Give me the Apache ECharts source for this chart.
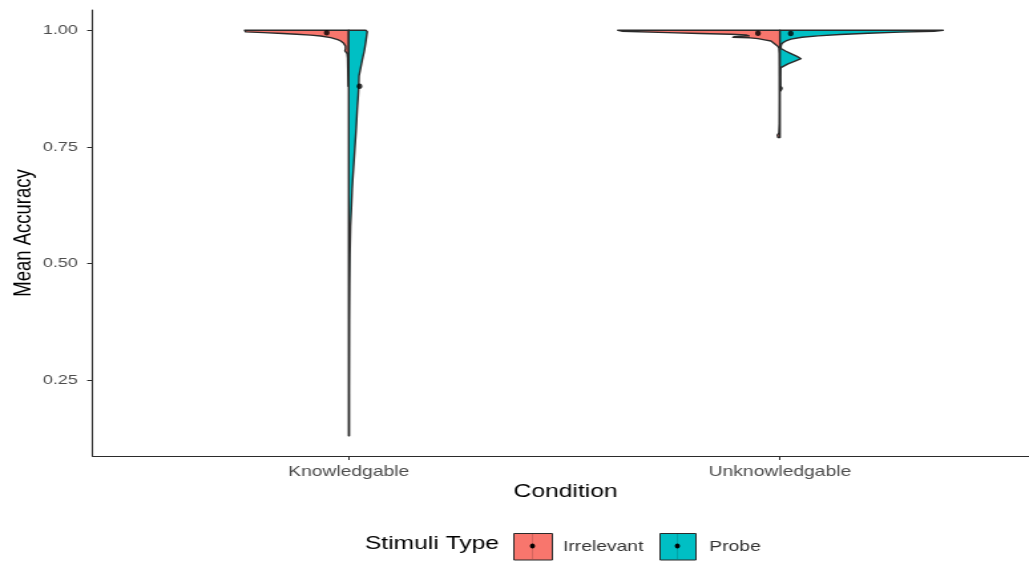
<!DOCTYPE html>
<html>
<head>
<meta charset="utf-8">
<script src="https://cdn.jsdelivr.net/npm/echarts@6/dist/echarts.min.js"></script>
<style>
html,body{margin:0;padding:0;width:1029px;height:563px;overflow:hidden;background:#fff;}
#chart{width:774px;height:563px;transform:scaleX(1.32946);transform-origin:0 0;}
</style>
</head>
<body>
<div id="chart"></div>
<script>
// ---- data ----
const categories = ['Knowledgable', 'Unknowledgable'];
const stimuli = ['Irrelevant', 'Probe'];
const yTicks = [0.25, 0.5, 0.75, 1.0];

// density profiles (accuracy value, violin half-width in category units)
const kIrrAcc = [1.000, 0.9965, 0.995, 0.993, 0.9914, 0.9895, 0.9878, 0.9843, 0.980, 0.977, 0.972, 0.966, 0.960, 0.956, 0.950, 0.940, 0.920, 0.900, 0.880];
const kIrrDen = [0.2413, 0.2390, 0.1972, 0.1531, 0.1206, 0.0882, 0.0650, 0.0418, 0.0255, 0.0186, 0.0116, 0.0074, 0.0074, 0.0086, 0.0035, 0.0023, 0.0019, 0.0014, 0.0009];

const kProbeAcc = [1.000, 0.997, 0.990, 0.974, 0.955, 0.938, 0.920, 0.902, 0.880, 0.860, 0.830, 0.790, 0.752, 0.717, 0.680, 0.660, 0.620, 0.580, 0.520, 0.450, 0.380, 0.300, 0.220, 0.130];
const kProbeDen = [0.0394, 0.0429, 0.0418, 0.0394, 0.0360, 0.0318, 0.0278, 0.0239, 0.0232, 0.0220, 0.0197, 0.0174, 0.0146, 0.0121, 0.0093, 0.0081, 0.0063, 0.0042, 0.0028, 0.0021, 0.0016, 0.0014, 0.0012, 0.0012];

const uIrrAcc = [1.000, 0.998, 0.995, 0.993, 0.9914, 0.990, 0.988, 0.9862, 0.9850, 0.9838, 0.982, 0.979, 0.977, 0.972, 0.968, 0.966, 0.962, 0.950, 0.900, 0.850, 0.800, 0.780, 0.775, 0.770];
const uIrrDen = [0.3759, 0.3666, 0.2599, 0.1856, 0.1137, 0.0789, 0.0719, 0.1067, 0.1090, 0.0696, 0.0510, 0.0325, 0.0209, 0.0139, 0.0081, 0.0053, 0.0023, 0.0014, 0.0012, 0.0012, 0.0014, 0.0023, 0.0058, 0.0046];

const uProbeAcc = [1.000, 0.998, 0.996, 0.9936, 0.991, 0.988, 0.985, 0.981, 0.977, 0.9736, 0.970, 0.966, 0.961, 0.955, 0.950, 0.944, 0.939, 0.934, 0.928, 0.920, 0.915, 0.900, 0.880, 0.876, 0.873, 0.870];
const uProbeDen = [0.3782, 0.3573, 0.2784, 0.2042, 0.1392, 0.0882, 0.0510, 0.0255, 0.0139, 0.0070, 0.0035, 0.0023, 0.0023, 0.0139, 0.0255, 0.0394, 0.0487, 0.0348, 0.0186, 0.0023, 0.0014, 0.0012, 0.0014, 0.0046, 0.0035, 0.0014];

// group means
const meanIrr = [0.9946, 0.9936];
const meanProbe = [0.880, 0.993];

// ---- styles ----
const colIrr = '#F8766D';
const colProbe = '#00BFC4';
const outline = '#2b2b2b';
const dodgeIrr = -0.051, dodgeProbe = 0.025;
const font = "'Liberation Sans', Arial, sans-serif";

const irrProfiles = [{acc: kIrrAcc, den: kIrrDen}, {acc: uIrrAcc, den: uIrrDen}];
const probeProfiles = [{acc: kProbeAcc, den: kProbeDen}, {acc: uProbeAcc, den: uProbeDen}];

function halfViolin(side, profiles, color) {
  return function (params, api) {
    const cx = api.value(0);
    const p = profiles[params.dataIndex];
    const n = p.acc.length;
    const pts = [api.coord([cx, p.acc[0]])];
    for (let i = 0; i < n; i++) pts.push(api.coord([cx + side * p.den[i], p.acc[i]]));
    pts.push(api.coord([cx, p.acc[n - 1]]));
    return {
      type: 'polygon',
      shape: { points: pts },
      style: { fill: color, stroke: outline, lineWidth: 1.4, lineJoin: 'round' }
    };
  };
}

const catData = categories.map((c, i) => [i + 1, 1]);

const chart = echarts.init(document.getElementById('chart'));
chart.setOption({
  animation: false,
  backgroundColor: '#ffffff',
  textStyle: { fontFamily: font },
  title: {
    text: 'Stimuli Type', left: 274.5, top: 534, padding: 0,
    textStyle: { fontSize: 18.5, fontWeight: 'normal', color: '#000', fontFamily: font }
  },
  legend: [
    {
      data: [{ name: 'Irrelevant', icon: 'rect', itemStyle: { color: colIrr, borderColor: outline, borderWidth: 1 } }],
      left: 386, top: 533, padding: 0, itemWidth: 29, itemHeight: 26.5,
      textStyle: { fontSize: 14.5, color: '#333', fontFamily: font, padding: [0, 0, 0, 3] }
    },
    {
      data: [{ name: 'Probe', icon: 'rect', itemStyle: { color: colProbe, borderColor: outline, borderWidth: 1 } }],
      left: 496, top: 533, padding: 0, itemWidth: 27, itemHeight: 26.5,
      textStyle: { fontSize: 14.5, color: '#333', fontFamily: font, padding: [0, 0, 0, 5] }
    }
  ],
  graphic: [
    { type: 'line', shape: { x1: 400.5, y1: 533.5, x2: 400.5, y2: 559 }, style: { stroke: 'rgba(0,0,0,0.18)', lineWidth: 0.8 }, z: 100 },
    { type: 'ellipse', shape: { cx: 400.5, cy: 546, rx: 1.9, ry: 2.5 }, style: { fill: '#000' }, z: 100 },
    { type: 'line', shape: { x1: 509.5, y1: 533.5, x2: 509.5, y2: 559 }, style: { stroke: 'rgba(0,0,0,0.18)', lineWidth: 0.8 }, z: 100 },
    { type: 'ellipse', shape: { cx: 509.5, cy: 546, rx: 1.9, ry: 2.5 }, style: { fill: '#000' }, z: 100 }
  ],
  grid: { left: 69.6, top: 10, width: 711.7, height: 446, containLabel: false, outerBoundsMode: 'none' },
  xAxis: {
    type: 'value', min: 0.406, max: 2.6,
    splitLine: { show: false },
    axisLine: { show: true, lineStyle: { color: outline, width: 1.1 } },
    axisTick: { show: true, customValues: [1, 2], length: 4, lineStyle: { color: outline, width: 1 } },
    axisLabel: {
      customValues: [1, 2], formatter: v => categories[Math.round(v) - 1],
      color: '#4d4d4d', fontSize: 14.5, margin: 8, fontFamily: font
    },
    name: 'Condition', nameLocation: 'middle', nameGap: 26, nameMoveOverlap: false,
    nameTextStyle: { fontSize: 18.5, color: '#000', fontFamily: font }
  },
  yAxis: {
    type: 'value', min: 0.0865, max: 1.0435,
    splitLine: { show: false },
    axisLine: { show: true, lineStyle: { color: outline, width: 1.1 } },
    axisTick: { show: true, customValues: yTicks, length: 4, lineStyle: { color: outline, width: 1 } },
    axisLabel: {
      customValues: yTicks, formatter: v => v.toFixed(2),
      color: '#4d4d4d', fontSize: 13.5, margin: 11, fontFamily: font
    },
    name: 'Mean Accuracy', nameLocation: 'middle', nameGap: 42.5, nameRotate: 90, nameMoveOverlap: false,
    nameTextStyle: { fontSize: 18.5, color: '#000', fontFamily: font }
  },
  series: [
    { name: 'Irrelevant', type: 'custom', renderItem: halfViolin(-1, irrProfiles, colIrr), data: catData, encode: { x: 0, y: 1 }, z: 2 },
    { name: 'Probe', type: 'custom', renderItem: halfViolin(1, probeProfiles, colProbe), data: catData, encode: { x: 0, y: 1 }, z: 2 },
    { name: 'Irrelevant', type: 'scatter', symbol: 'circle', symbolSize: [4.2, 5.5], itemStyle: { color: '#000' },
      data: meanIrr.map((m, i) => [i + 1 + dodgeIrr, m]), z: 5 },
    { name: 'Probe', type: 'scatter', symbol: 'circle', symbolSize: [4.2, 5.5], itemStyle: { color: '#000' },
      data: meanProbe.map((m, i) => [i + 1 + dodgeProbe, m]), z: 5 }
  ]
});
</script>
</body>
</html>
